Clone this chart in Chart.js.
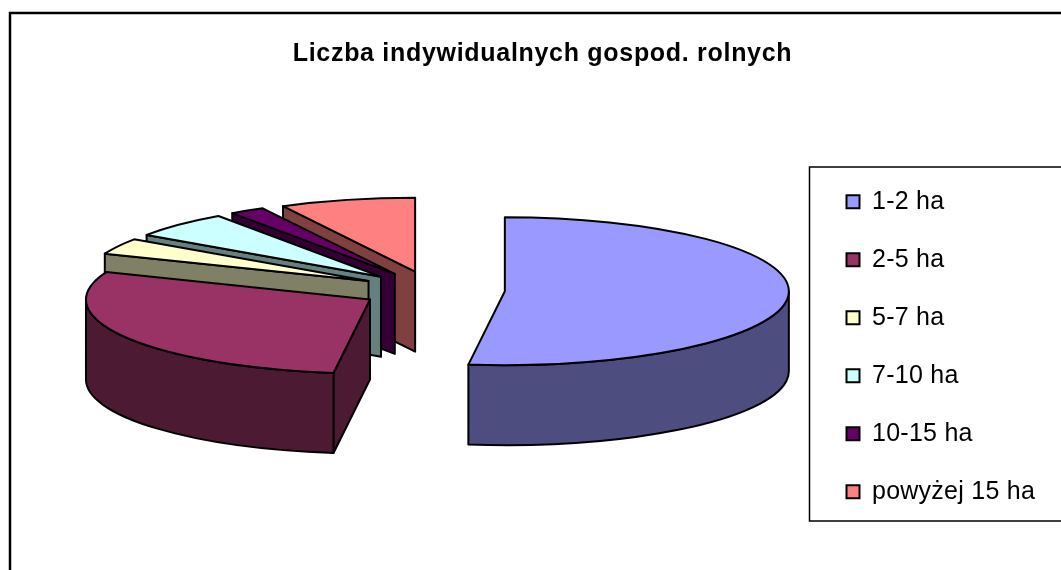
<!DOCTYPE html>
<html>
<head>
<meta charset="utf-8">
<style>
  html, body { margin: 0; padding: 0; background: #fff; overflow: hidden; }
  canvas { display: block; }
</style>
<script src="https://cdn.jsdelivr.net/npm/chart.js@4"></script>
</head>
<body>
<canvas id="pie" width="1061" height="570"></canvas>
<script>
/* ---------- data ---------- */
const categories = ["1-2 ha", "2-5 ha", "5-7 ha", "7-10 ha", "10-15 ha", "powyżej 15 ha"];
const shares     = [52.05, 29.0, 3.5, 5.75, 2.0, 7.7];
const topColors  = ["#9999FF", "#993366", "#FFFFCC", "#CCFFFF", "#660066", "#FF8080"];
const wallColors = ["#4D4D80", "#4D1A33", "#808066", "#668080", "#330033", "#804040"];
const titleText  = "Liczba indywidualnych gospod. rolnych";

/* the reference text is wider than Liberation at this height */
function spaced(box, px) {
  const draw = box.draw;
  box.draw = function (...args) {
    const c = box.ctx;
    c.save(); c.letterSpacing = px;
    draw.apply(box, args);
    c.restore();
  };
}

/* ---------- 3D look: Chart.js has no 3D pie, so squash its arcs ---------- */
const pie3d = {
  id: "pie3d",
  beforeDraw(chart) {
    const c = chart.ctx;
    c.save();
    c.fillStyle = "#fff"; c.fillRect(0, 0, 1061, 570);
    c.strokeStyle = "#000"; c.lineWidth = 2.5;
    c.strokeRect(10, 13, 1100, 600);            // outer frame, runs off the page
    c.lineWidth = 1.5;
    c.strokeRect(809.5, 167, 300, 354);         // legend frame
    c.restore();
  },
  afterLayout(chart) {
    chart.legend.left = 813.5;
    chart.legend.top = 123.5;
    spaced(chart.titleBlock, "0.7px");
    spaced(chart.legend, "0.25px");
  },
  beforeDatasetsDraw(chart, args, o) {
    const c = chart.ctx;
    const arcs = chart.getDatasetMeta(0).data;
    c.save();
    c.lineWidth = 2; c.lineJoin = "round"; c.strokeStyle = "#000";
    for (let i = arcs.length - 1; i >= 0; i--) {
      const a0 = arcs[i].startAngle, a1 = arcs[i].endAngle, mid = (a0 + a1) / 2;
      const ax = o.cx + Math.cos(mid) * o.explode;
      const ay = o.cy + Math.sin(mid) * o.explode * o.ry / o.rx;
      const rimX = t => ax + Math.cos(t) * o.rx;
      const rimY = t => ay + Math.sin(t) * o.ry;
      const paint = fill => { c.fillStyle = fill; c.fill(); c.stroke(); };

      // flat walls, only those facing the viewer
      [[a0, Math.cos(a0) < 0], [a1, Math.cos(a1) > 0]].forEach(([t, seen]) => {
        if (!seen) return;
        c.beginPath();
        c.moveTo(ax, ay); c.lineTo(rimX(t), rimY(t));
        c.lineTo(rimX(t), rimY(t) + o.depth); c.lineTo(ax, ay + o.depth);
        c.closePath(); paint(wallColors[i]);
      });

      // round wall, lower half of the ellipse
      const t0 = Math.max(a0, 0), t1 = Math.min(a1, Math.PI);
      if (t1 > t0) {
        c.beginPath();
        c.ellipse(ax, ay, o.rx, o.ry, 0, t0, t1);
        c.ellipse(ax, ay + o.depth, o.rx, o.ry, 0, t1, t0, true);
        c.closePath(); paint(wallColors[i]);
      }

      // top
      c.beginPath();
      c.moveTo(ax, ay);
      c.ellipse(ax, ay, o.rx, o.ry, 0, a0, a1);
      c.closePath(); paint(topColors[i]);
    }
    c.restore();
    return false;
  }
};

new Chart(document.getElementById("pie"), {
  type: "pie",
  data: {
    labels: categories,
    datasets: [{
      data: shares,
      backgroundColor: topColors,
      borderColor: "#000",
      borderWidth: 2
    }]
  },
  options: {
    responsive: false,
    animation: false,
    layout: { padding: { left: 24 } },
    plugins: {
      pie3d: { cx: 432.5, cy: 290, rx: 284, ry: 74, depth: 80, explode: 72.5 },
      tooltip: { enabled: false },
      title: {
        display: true,
        text: titleText,
        color: "#000",
        font: { family: "Liberation Sans", size: 25, weight: "bold" },
        padding: { top: 39, bottom: 10 }
      },
      legend: {
        position: "right",
        labels: {
          color: "#000",
          boxWidth: 13,
          boxHeight: 13,
          padding: 33,
          font: { family: "Liberation Sans", size: 25 }
        }
      }
    }
  },
  plugins: [pie3d]
});
</script>
</body>
</html>
